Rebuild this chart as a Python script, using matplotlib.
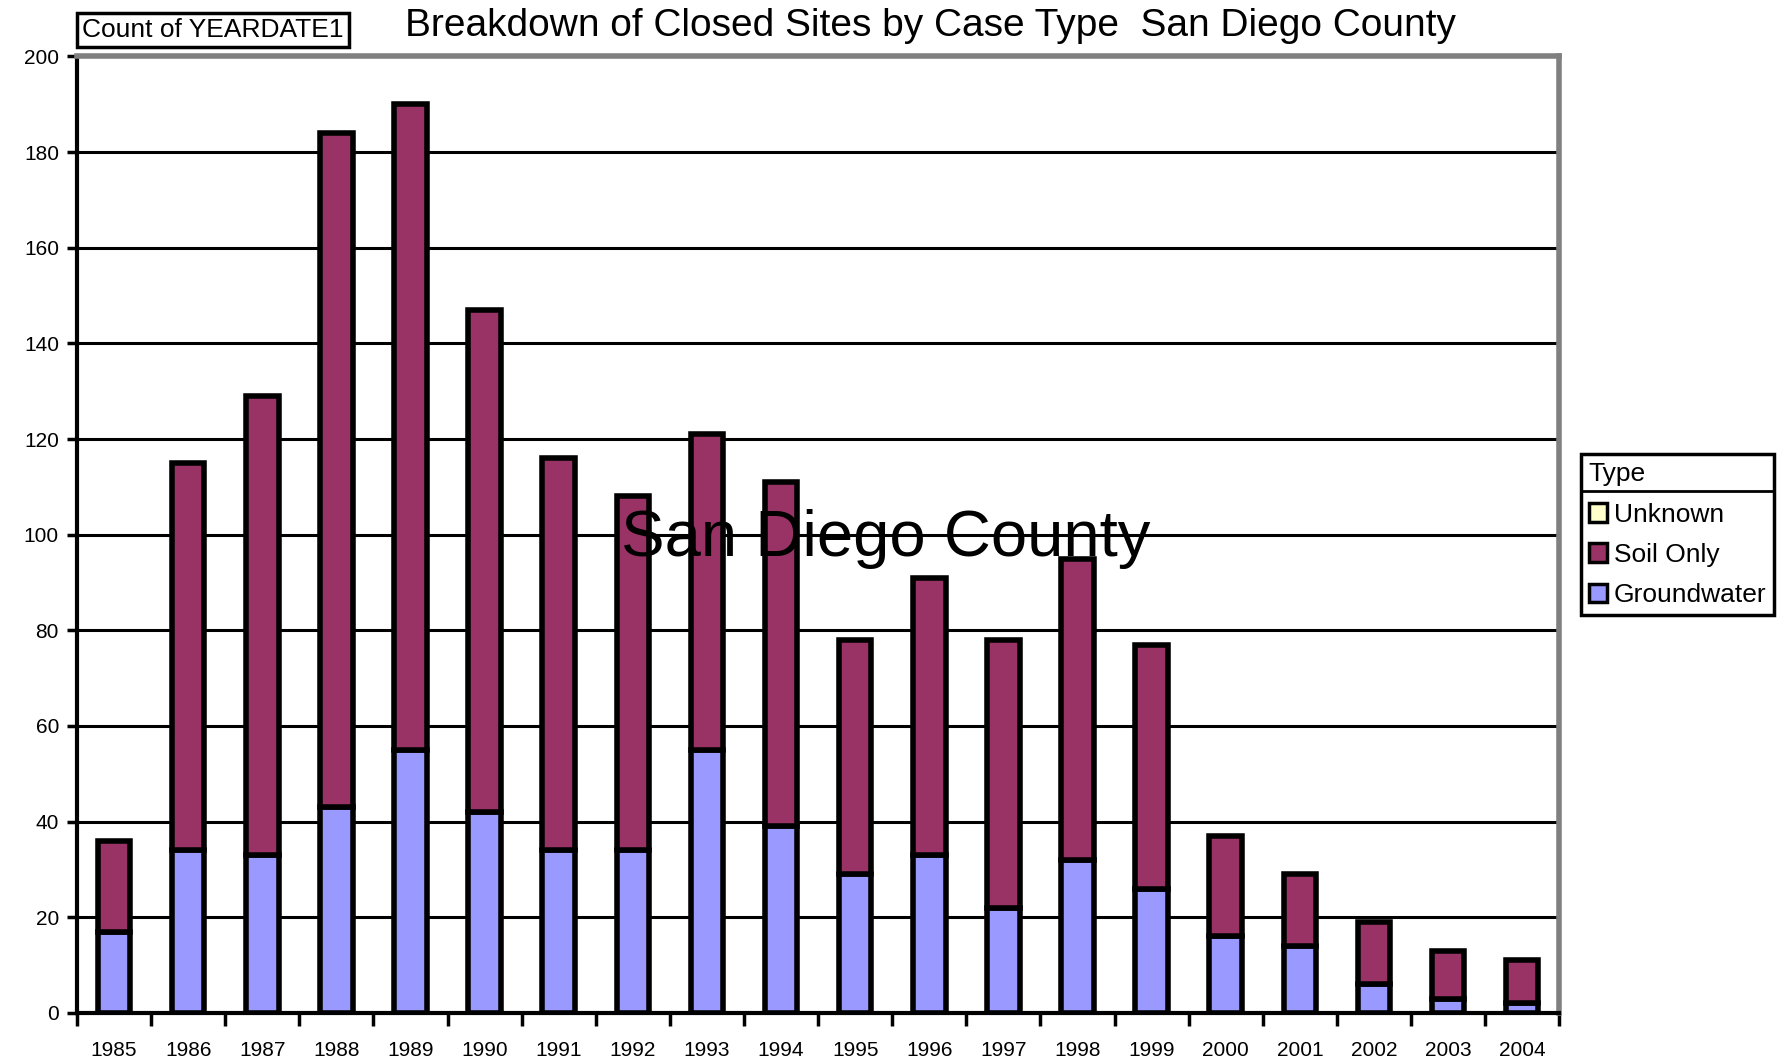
import numpy as np
import matplotlib.pyplot as plt
from matplotlib.patches import Patch
from matplotlib.lines import Line2D

plt.rcParams['font.family'] = ['Liberation Sans', 'DejaVu Sans']

years = ['1985', '1986', '1987', '1988', '1989', '1990', '1991', '1992', '1993', '1994',
         '1995', '1996', '1997', '1998', '1999', '2000', '2001', '2002', '2003', '2004']
groundwater = [17, 34, 33, 43, 55, 42, 34, 34, 55, 39, 29, 33, 22, 32, 26, 16, 14, 6, 3, 2]
totals = [36, 115, 129, 184, 190, 147, 116, 108, 121, 111, 78, 91, 78, 95, 77, 37, 29, 19, 13, 11]
soil_only = [t - g for t, g in zip(totals, groundwater)]

c_unknown = '#FFFFCC'
c_soil = '#993366'
c_gw = '#9999FF'

fig = plt.figure(figsize=(17.82, 10.64), dpi=100)
ax = fig.add_axes([0.0432, 0.048, 0.8318, 0.899])

x = np.arange(len(years))
w = 0.44
ax.bar(x, groundwater, w, color=c_gw, edgecolor='black', linewidth=4, zorder=3)
ax.bar(x, soil_only, w, bottom=groundwater, color=c_soil, edgecolor='black', linewidth=4, zorder=3)

ax.set_xlim(-0.5, len(years) - 0.5)
ax.set_ylim(0, 200)
ax.set_yticks(np.arange(0, 201, 20))
ax.yaxis.grid(True, color='black', linewidth=2.2, zorder=0)
ax.set_axisbelow(True)

ax.set_xticks(x)
ax.set_xticklabels(years, fontsize=15)
ax.set_xticks(np.arange(-0.5, len(years), 1), minor=True)
ax.tick_params(axis='x', which='major', length=0, pad=20)
ax.tick_params(axis='x', which='minor', length=9, width=2.5, direction='out')
ax.tick_params(axis='y', length=7, width=2.5, labelsize=15, pad=6)

for s in ['left', 'bottom']:
    ax.spines[s].set_linewidth(3)
    ax.spines[s].set_color('black')
for s in ['top', 'right']:
    ax.spines[s].set_linewidth(4)
    ax.spines[s].set_color('#808080')

fig.text(0.522, 0.976, 'Breakdown of Closed Sites by Case Type  San Diego County',
         ha='center', va='center', fontsize=28)
fig.text(0.046, 0.972, 'Count of YEARDATE1', ha='left', va='center', fontsize=19,
         bbox=dict(boxstyle='square,pad=0.2', facecolor='white', edgecolor='black', linewidth=2.5))

ax.text(0.497, 0.493, 'San Diego County', transform=fig.transFigure, ha='center', va='center',
        fontsize=47, zorder=5)

handles = [Patch(facecolor=c_unknown, edgecolor='black', linewidth=2.5, label='Unknown'),
           Patch(facecolor=c_soil, edgecolor='black', linewidth=2.5, label='Soil Only'),
           Patch(facecolor=c_gw, edgecolor='black', linewidth=2.5, label='Groundwater')]
leg = fig.legend(handles=handles, title='Type', loc='upper left',
                 bbox_to_anchor=(0.887, 0.573), fontsize=19, title_fontsize=19,
                 handlelength=0.7, handleheight=0.7, handletextpad=0.25,
                 labelspacing=0.62, borderpad=0.3, borderaxespad=0, fancybox=False,
                 framealpha=1, edgecolor='black', alignment='left')
leg.get_frame().set_linewidth(2.5)

# separator line under the legend title
fig.canvas.draw()
r = fig.canvas.get_renderer()
box = leg.get_frame().get_window_extent(r)
tb = leg.get_title().get_window_extent(r)
ysep = (tb.y0 - 5) / fig.bbox.height
fig.add_artist(Line2D([box.x0 / fig.bbox.width, box.x1 / fig.bbox.width], [ysep, ysep],
                      color='black', linewidth=2, zorder=10))

fig.savefig('out.png', dpi=100)
